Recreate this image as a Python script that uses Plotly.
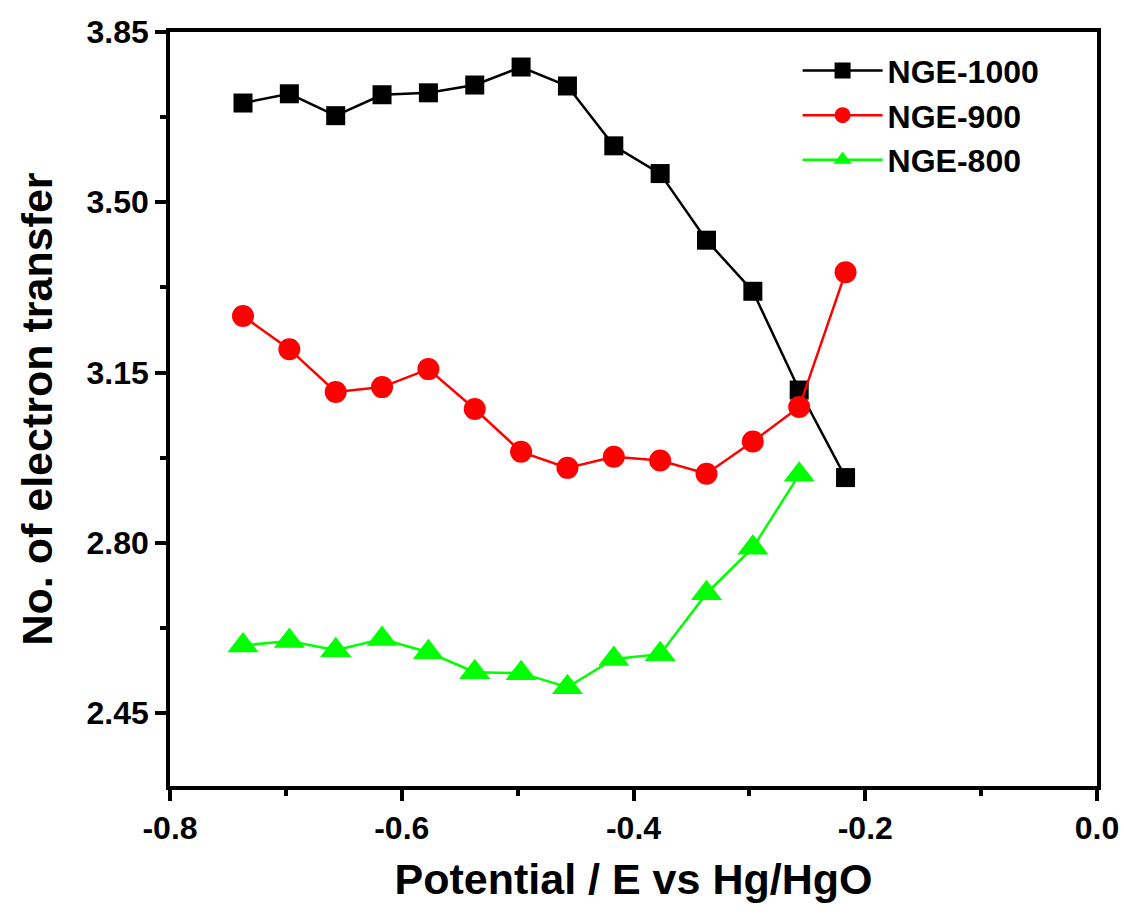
import plotly.graph_objects as go

potential = [-0.737, -0.697, -0.657, -0.617, -0.577, -0.537, -0.497, -0.457,
             -0.417, -0.377, -0.337, -0.297, -0.257, -0.217]
nge1000 = [3.704, 3.723, 3.678, 3.721, 3.725, 3.741, 3.778, 3.739,
           3.616, 3.559, 3.422, 3.317, 3.114, 2.934]
nge900 = [3.266, 3.198, 3.110, 3.120, 3.157, 3.075, 2.987, 2.954,
          2.977, 2.969, 2.942, 3.008, 3.079, 3.356]
nge800 = [2.589, 2.598, 2.579, 2.602, 2.575, 2.534, 2.532, 2.503,
          2.561, 2.571, 2.696, 2.790, 2.940]

x_tickvals = [-0.8, -0.6, -0.4, -0.2, 0.0]
x_ticktext = ["-0.8", "-0.6", "-0.4", "-0.2", "0.0"]
y_tickvals = [2.45, 2.80, 3.15, 3.50, 3.85]
y_ticktext = ["2.45", "2.80", "3.15", "3.50", "3.85"]

series = [
    ("NGE-1000", potential, nge1000, "#000000", "square", 19),
    ("NGE-900", potential, nge900, "#ff0000", "circle", 22),
    ("NGE-800", potential[:len(nge800)], nge800, "#00ff00", "triangle-up", 27),
]

fig = go.Figure()
for name, xs, ys, col, sym, sz in series:
    fig.add_trace(go.Scatter(
        x=xs, y=ys, name=name, mode="lines+markers",
        line=dict(color=col, width=2.5),
        marker=dict(symbol=sym, size=sz, color=col, line=dict(width=0)),
    ))

font = "Liberation Sans, Arial, sans-serif"
axis_common = dict(
    showline=True, linecolor="black", linewidth=3.5, mirror=True,
    ticks="outside", ticklen=11, tickwidth=3.5, tickcolor="black",
    showgrid=False, zeroline=False, automargin=False,
    tickfont=dict(family=font, size=32, color="black", weight="bold"),
)

fig.update_xaxes(
    range=[-0.8, 0.0], tickvals=x_tickvals, ticktext=x_ticktext,
    minor=dict(ticks="outside", ticklen=6, tickwidth=3.5, tickcolor="black",
               tick0=-0.8, dtick=0.1),
    title=dict(text="Potential / E vs Hg/HgO", standoff=20,
               font=dict(family=font, size=43, color="black", weight="bold")),
    **axis_common,
)
fig.update_yaxes(
    range=[2.30, 3.85], tickvals=y_tickvals, ticktext=y_ticktext,
    minor=dict(ticks="outside", ticklen=6, tickwidth=3.5, tickcolor="black",
               tick0=2.45, dtick=0.175),
    title=dict(text="No. of electron transfer", standoff=22,
               font=dict(family=font, size=43, color="black", weight="bold")),
    **axis_common,
)

fig.update_layout(
    width=1124, height=923,
    margin=dict(l=170, r=27, t=32, b=137),
    plot_bgcolor="white", paper_bgcolor="white",
    showlegend=True,
    legend=dict(
        x=0.677, y=0.985, xanchor="left", yanchor="top",
        bgcolor="rgba(0,0,0,0)", borderwidth=0,
        font=dict(family=font, size=32, color="black", weight="bold"),
        itemwidth=80,
    ),
)

fig.write_html("out.html")
